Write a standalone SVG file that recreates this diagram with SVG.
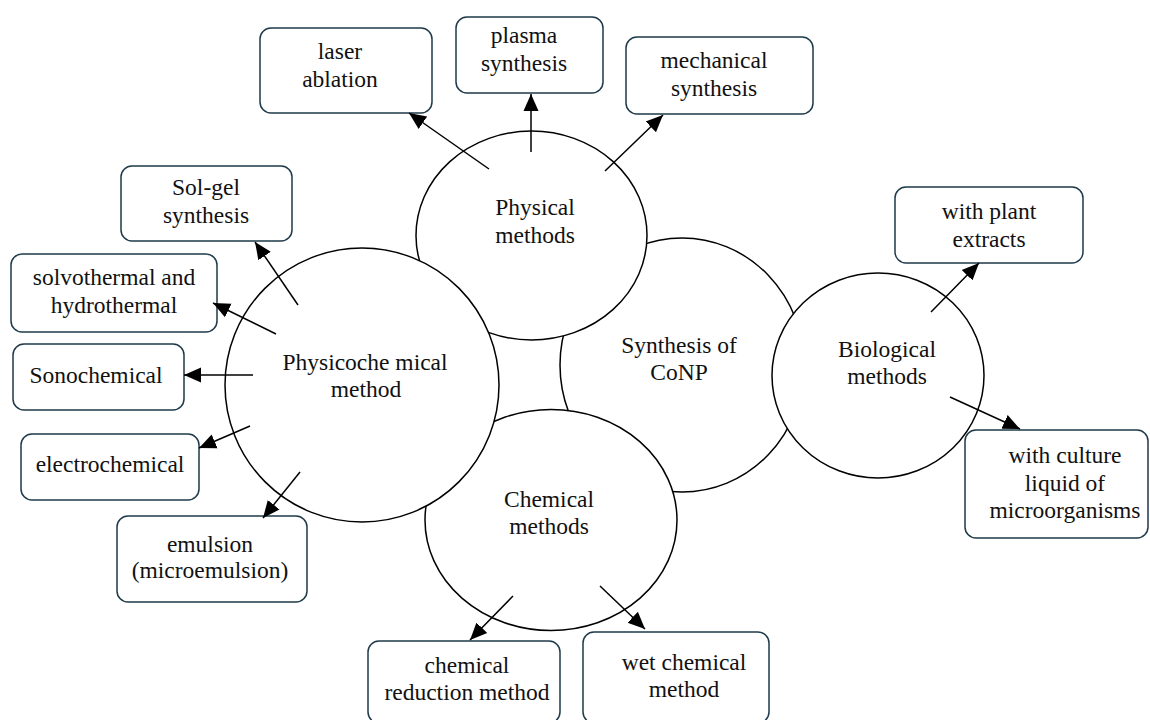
<svg xmlns="http://www.w3.org/2000/svg" width="1150" height="720" viewBox="0 0 1150 720" font-family="'Liberation Serif', 'DejaVu Serif', serif">
<style>
.c{fill:#fff;stroke:#000;stroke-width:1.5}
.b{fill:#fff;stroke:#1f3a4a;stroke-width:1.5}
text{font-family:'Liberation Serif','DejaVu Serif',serif;font-size:23.5px;fill:#111;text-anchor:middle}
.a{stroke:#000;stroke-width:1.5;fill:none;marker-end:url(#ah)}
</style>
<defs>
<marker id="ah" markerUnits="userSpaceOnUse" markerWidth="18" markerHeight="18" viewBox="0 0 18 18" refX="17" refY="9" orient="auto">
<path d="M0,1.5 L17,9 L0,16.5 z" fill="#000"/>
</marker>
</defs>
<rect width="1150" height="720" fill="#fff"/>
<g id="synthesis"><ellipse class="c" cx="682" cy="365" rx="122" ry="127"/><text x="679" y="353">Synthesis of</text><text x="679" y="380">CoNP</text></g>
<g id="physical"><ellipse class="c" cx="531.5" cy="235.5" rx="115.5" ry="104.5"/><text x="535" y="215">Physical</text><text x="535" y="243">methods</text></g>
<g id="chemical"><ellipse class="c" cx="551" cy="520" rx="126" ry="110.5"/><text x="549" y="507">Chemical</text><text x="549" y="534">methods</text></g>
<g id="biological"><ellipse class="c" cx="878" cy="375.5" rx="106" ry="102.5"/><text x="887" y="357">Biological</text><text x="887" y="384">methods</text></g>
<g id="physicochemical"><ellipse class="c" cx="362" cy="385" rx="137" ry="137"/><text x="365" y="370">Physicoche mical</text><text x="366" y="397">method</text></g>
<g id="laser"><rect class="b" x="260" y="28" width="172" height="85" rx="11"/><text x="340" y="59">laser</text><text x="340" y="87">ablation</text></g>
<g id="plasma"><rect class="b" x="456" y="17" width="147" height="76" rx="11"/><text x="524" y="43">plasma</text><text x="524" y="71">synthesis</text></g>
<g id="mechanical"><rect class="b" x="626" y="37" width="187" height="77" rx="11"/><text x="714" y="68">mechanical</text><text x="714" y="96">synthesis</text></g>
<g id="solgel"><rect class="b" x="121" y="166" width="171" height="75" rx="11"/><text x="206" y="195">Sol-gel</text><text x="206" y="223">synthesis</text></g>
<g id="solvothermal"><rect class="b" x="11" y="254" width="206" height="78" rx="11"/><text x="114" y="285">solvothermal and</text><text x="114" y="313">hydrothermal</text></g>
<g id="sonochemical"><rect class="b" x="13" y="344" width="171" height="66" rx="11"/><text x="96" y="383">Sonochemical</text></g>
<g id="electrochemical"><rect class="b" x="21" y="434" width="178" height="66" rx="11"/><text x="110" y="472">electrochemical</text></g>
<g id="emulsion"><rect class="b" x="117" y="516" width="190" height="86" rx="11"/><text x="210" y="552">emulsion</text><text x="210" y="578">(microemulsion)</text></g>
<g id="reduction"><rect class="b" x="368" y="641" width="192" height="82" rx="11"/><text x="467" y="673">chemical</text><text x="467" y="700">reduction method</text></g>
<g id="wet"><rect class="b" x="583" y="632" width="186" height="91" rx="11"/><text x="684" y="670">wet chemical</text><text x="684" y="697">method</text></g>
<g id="plant"><rect class="b" x="895" y="187" width="188" height="76" rx="11"/><text x="989" y="219">with plant</text><text x="989" y="247">extracts</text></g>
<g id="culture"><rect class="b" x="965" y="430" width="183" height="108" rx="11"/><text x="1065" y="463">with culture</text><text x="1065" y="491">liquid of</text><text x="1065" y="518">microorganisms</text></g>
<g id="connectors">
<line class="a" x1="489" y1="169" x2="409" y2="113"/>
<line class="a" x1="531" y1="152" x2="531" y2="94"/>
<line class="a" x1="605" y1="171" x2="663" y2="115"/>
<line class="a" x1="298" y1="305" x2="255" y2="242"/>
<line class="a" x1="276" y1="334" x2="213" y2="303"/>
<line class="a" x1="253" y1="375" x2="184" y2="375"/>
<line class="a" x1="250" y1="426" x2="199" y2="448"/>
<line class="a" x1="300" y1="472" x2="263" y2="518"/>
<line class="a" x1="513" y1="596" x2="470" y2="640"/>
<line class="a" x1="600" y1="586" x2="645" y2="629"/>
<line class="a" x1="931" y1="312" x2="979" y2="263"/>
<line class="a" x1="950" y1="397" x2="1020" y2="429"/>
</g>
</svg>
